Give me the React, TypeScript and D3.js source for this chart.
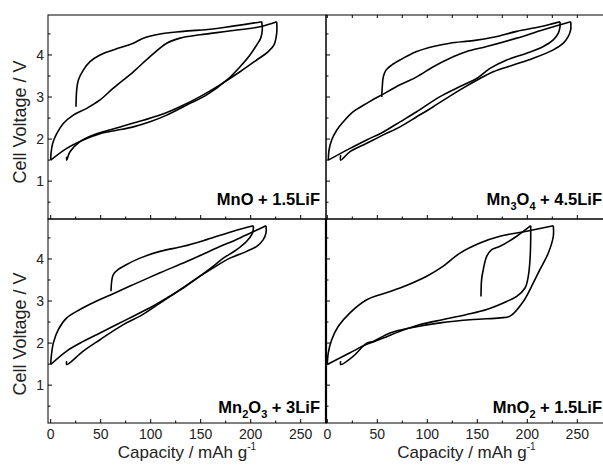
import * as d3 from 'd3';

type Pt = [number, number];

// capacity (mAh/g), voltage (V)
const mnoCharge1: Pt[] = [[25.3, 2.77], [26, 3.17], [27.6, 3.4], [32.6, 3.64], [39.3, 3.84], [49.3, 4.0], [62.6, 4.12], [82.6, 4.28], [92.6, 4.4], [109.3, 4.5], [132.6, 4.56], [166, 4.63], [211, 4.79]];
const mnoDischarge1: Pt[] = [[211, 4.79], [211.6, 4.6], [210, 4.4], [206, 4.24], [199.3, 4.0], [189.3, 3.72], [176, 3.4], [156, 3.05], [136, 2.81], [116, 2.57], [99.3, 2.41], [82.6, 2.29], [66, 2.21], [49.3, 2.13], [32.6, 1.98], [16, 1.78], [0, 1.5]];
const mnoCharge2: Pt[] = [[0, 1.5], [0.3, 1.66], [2, 1.9], [6, 2.13], [12.6, 2.37], [22.6, 2.57], [36, 2.73], [49.3, 2.93], [62.6, 3.21], [82.6, 3.6], [99.3, 3.96], [116, 4.28], [129.3, 4.4], [149.3, 4.48], [182.6, 4.58], [209.3, 4.67], [226, 4.79]];
const mnoDischarge2: Pt[] = [[226, 4.79], [226, 4.52], [223.3, 4.24], [217.6, 4.08], [206, 3.88], [189.3, 3.6], [169.3, 3.29], [149.3, 3.01], [129.3, 2.77], [109.3, 2.57], [92.6, 2.45], [72.6, 2.31], [56, 2.2], [42.6, 2.1], [29.3, 1.94], [19.3, 1.7], [16, 1.5], [16, 1.58]];

const mn3o4Charge1: Pt[] = [[54.4, 3.0], [55, 3.25], [56, 3.48], [58.7, 3.64], [64.4, 3.76], [72.7, 3.88], [89.4, 4.08], [106, 4.2], [122.7, 4.28], [146, 4.34], [166, 4.42], [189.4, 4.56], [212.7, 4.67], [232.7, 4.79]];
const mn3o4Discharge1: Pt[] = [[232.7, 4.79], [232.7, 4.67], [231, 4.52], [226, 4.36], [216, 4.2], [199.4, 4.04], [179.4, 3.88], [162.7, 3.68], [149.4, 3.44], [132.7, 3.25], [112.7, 3.01], [89.4, 2.65], [72.7, 2.41], [56, 2.17], [39.4, 1.98], [22.7, 1.78], [1, 1.5]];
const mn3o4Charge2: Pt[] = [[1, 1.5], [1.7, 1.74], [4.4, 1.98], [9.4, 2.21], [16, 2.41], [26, 2.65], [39.4, 2.85], [54.4, 3.05], [72.7, 3.29], [89.4, 3.48], [106, 3.72], [122.7, 3.92], [139.4, 4.08], [159.4, 4.2], [189.4, 4.4], [216, 4.6], [243.4, 4.79]];
const mn3o4Discharge2: Pt[] = [[243.4, 4.79], [243.4, 4.6], [241, 4.44], [236, 4.28], [226, 4.12], [206, 3.92], [186, 3.76], [166, 3.6], [152.7, 3.44], [132.7, 3.17], [106, 2.77], [89.4, 2.53], [72.7, 2.29], [56, 2.1], [39.4, 1.9], [22.7, 1.7], [13.4, 1.5], [13.4, 1.62]];

const mn2o3Charge1: Pt[] = [[60.3, 3.23], [61, 3.47], [62.6, 3.63], [67.6, 3.75], [76, 3.87], [89.3, 4.02], [109.3, 4.18], [132.6, 4.3], [156, 4.46], [182.6, 4.66], [202.6, 4.79]];
const mn2o3Discharge1: Pt[] = [[202.6, 4.79], [202.6, 4.7], [201, 4.58], [196, 4.42], [186, 4.22], [172.6, 4.02], [162.6, 3.83], [149.3, 3.59], [132.6, 3.31], [116, 3.07], [99.3, 2.84], [82.6, 2.64], [66, 2.44], [49.3, 2.24], [32.6, 2.04], [16, 1.81], [0, 1.49]];
const mn2o3Charge2: Pt[] = [[0, 1.49], [0.6, 1.69], [2.6, 2.0], [7.6, 2.32], [16, 2.6], [29.3, 2.8], [46, 3.0], [60.3, 3.15], [82.6, 3.39], [109.3, 3.67], [136, 3.94], [166, 4.26], [189.3, 4.5], [215.3, 4.79]];
const mn2o3Discharge2: Pt[] = [[215.3, 4.79], [215.3, 4.62], [212.6, 4.46], [206, 4.3], [196, 4.18], [179.3, 4.02], [162.6, 3.79], [149.3, 3.59], [129.3, 3.27], [109.3, 2.95], [89.3, 2.64], [72.6, 2.44], [49.3, 2.08], [32.6, 1.81], [16, 1.49], [16, 1.57]];

const mno2Charge1: Pt[] = [[153.7, 3.11], [154.3, 3.51], [156, 3.75], [159.4, 4.06], [164.4, 4.22], [172.7, 4.3], [189.4, 4.54], [203.4, 4.79]];
const mno2Discharge1: Pt[] = [[203.4, 4.79], [203.4, 4.46], [202.7, 3.98], [201, 3.59], [197.7, 3.31], [189.4, 3.11], [179.4, 2.99], [159.4, 2.8], [139.4, 2.68], [116, 2.56], [92.7, 2.44], [72.7, 2.28], [56, 2.12], [39.4, 1.97], [22.7, 1.77], [0, 1.49]];
const mno2Charge2: Pt[] = [[0, 1.49], [1, 1.77], [4.4, 2.08], [11, 2.4], [22.7, 2.72], [39.4, 3.03], [52.7, 3.15], [72.7, 3.31], [99.4, 3.59], [116, 3.83], [132.7, 4.14], [152.7, 4.38], [172.7, 4.54], [199.4, 4.66], [226, 4.79]];
const mno2Discharge2: Pt[] = [[226, 4.79], [226, 4.54], [221, 4.14], [212.7, 3.75], [206, 3.43], [196, 2.99], [182.7, 2.64], [172.7, 2.6], [146, 2.56], [112.7, 2.48], [82.7, 2.36], [62.7, 2.24], [46, 2.04], [39.4, 2.0], [26, 1.69], [13.4, 1.49], [13.4, 1.57]];

const xTicks = [0, 50, 100, 150, 200, 250];
const xMinor = [25, 75, 125, 175, 225];
const xTopTicks = [0, 25, 50, 75, 100, 125, 150, 175, 200, 225, 250];
const yTicks = [1, 2, 3, 4];
const yMinor = [0.5, 1.5, 2.5, 3.5, 4.5];

// label pieces: [text, isSubscript]
const labelMnO: [string, boolean][] = [['MnO + 1.5LiF', false]];
const labelMn3O4: [string, boolean][] = [['Mn', false], ['3', true], ['O', false], ['4', true], [' + 4.5LiF', false]];
const labelMn2O3: [string, boolean][] = [['Mn', false], ['2', true], ['O', false], ['3', true], [' + 3LiF', false]];
const labelMnO2: [string, boolean][] = [['MnO', false], ['2', true], [' + 1.5LiF', false]];

const yTitle = 'Cell Voltage / V';
const xTitle = 'Capacity / mAh g';

const W = 603;
const H = 470;
const colX = [[48, 326], [326, 604]];
const rowY = [[15, 219], [219, 423]];
const xDomains = [[-2.7, 275.3], [-1.3, 276.7]];
const yDomain = [0.1, 4.95];
const font = 'Arial, "Liberation Sans", sans-serif';

const panels = [
  { id: 'a', col: 0, row: 0, label: labelMnO, curves: [mnoCharge1, mnoDischarge1, mnoCharge2, mnoDischarge2] },
  { id: 'b', col: 1, row: 0, label: labelMn3O4, curves: [mn3o4Charge1, mn3o4Discharge1, mn3o4Charge2, mn3o4Discharge2] },
  { id: 'c', col: 0, row: 1, label: labelMn2O3, curves: [mn2o3Charge1, mn2o3Discharge1, mn2o3Charge2, mn2o3Discharge2] },
  { id: 'd', col: 1, row: 1, label: labelMnO2, curves: [mno2Charge1, mno2Discharge1, mno2Charge2, mno2Discharge2] },
];

function Panel({ p }: { p: typeof panels[number] }) {
  const [x0, x1] = colX[p.col];
  const [y0, y1] = rowY[p.row];
  const x = d3.scaleLinear().domain(xDomains[p.col]).range([x0, x1]);
  const y = d3.scaleLinear().domain(yDomain).range([y1, y0]);
  const line = d3.line<Pt>()
    .x(d => x(d[0]))
    .y(d => y(d[1]))
    .curve(d3.curveCatmullRom.alpha(0.5));

  const labelX = p.col === 0 ? 320 : 602;
  const labelY = p.row === 0 ? 205 : 413;

  return (
    <g>
      <clipPath id={`clip-${p.id}`}>
        <rect x={x0} y={y0} width={x1 - x0} height={y1 - y0} />
      </clipPath>
      <g clipPath={`url(#clip-${p.id})`}>
        {p.curves.map((c, i) => (
          <path key={i} d={line(c) || ''} fill="none" stroke="#000" strokeWidth={1.6} strokeLinejoin="round" />
        ))}
      </g>
      <rect x={x0} y={y0} width={x1 - x0} height={y1 - y0} fill="none" stroke="#000" strokeWidth={1} />
      {p.col === 1 && p.row === 1 && (
        <line x1={x0} x2={x0} y1={y0} y2={y1} stroke="#000" strokeWidth={2.2} />
      )}
      {/* y ticks, inward */}
      {yTicks.map(t => (
        <line key={'ym' + t} x1={x0} x2={x0 + 4} y1={y(t)} y2={y(t)} stroke="#000" strokeWidth={1} />
      ))}
      {yMinor.map(t => (
        <line key={'yn' + t} x1={x0} x2={x0 + 2.5} y1={y(t)} y2={y(t)} stroke="#000" strokeWidth={1} />
      ))}
      {/* x ticks, inward */}
      {xTicks.map(t => (
        <line key={'xm' + t} x1={x(t)} x2={x(t)} y1={y1} y2={y1 - 4} stroke="#000" strokeWidth={1} />
      ))}
      {xMinor.map(t => (
        <line key={'xn' + t} x1={x(t)} x2={x(t)} y1={y1} y2={y1 - 2.5} stroke="#000" strokeWidth={1} />
      ))}
      {p.col === 1 && p.row === 0 && xTopTicks.map(t => (
        <line key={'xt' + t} x1={x(t)} x2={x(t)} y1={y0} y2={y0 + 3} stroke="#000" strokeWidth={1} />
      ))}
      {p.col === 0 && yTicks.map(t => (
        <text key={'yl' + t} x={44} y={y(t)} dy="0.36em" textAnchor="end" fontSize={14} fontFamily={font} fill="#222">{t}</text>
      ))}
      {p.row === 1 && xTicks.map(t => (
        <text key={'xl' + t} x={x(t)} y={439} textAnchor="middle" fontSize={14} fontFamily={font} fill="#222">{t}</text>
      ))}
      {p.col === 0 && (
        <text transform={`translate(26,${p.row === 0 ? 122 : 334}) rotate(-90)`} textAnchor="middle" fontSize={18} fontFamily={font} fill="#222">{yTitle}</text>
      )}
      {p.row === 1 && (
        <text x={(x0 + Math.min(x1, W)) / 2 + (p.col === 0 ? 0 : 2)} y={458} textAnchor="middle" fontSize={17} fontFamily={font} fill="#222">
          {xTitle}
          <tspan fontSize={10} dy={-8}>-1</tspan>
        </text>
      )}
      <text x={labelX} y={labelY} textAnchor="end" fontSize={16.5} fontWeight="bold" fontFamily={font} fill="#000">
        {p.label.map(([s, sub], i) => {
          const prevSub = i > 0 && p.label[i - 1][1];
          const dy = sub ? 5 : prevSub ? -5 : 0;
          return (
            <tspan key={i} fontSize={sub ? 11 : 16.5} dy={dy}>{s}</tspan>
          );
        })}
      </text>
    </g>
  );
}

export default function App() {
  return (
    <svg width={W} height={H} style={{ position: 'absolute', left: 0, top: 0, background: '#fff' }}>
      <rect x={0} y={0} width={W} height={H} fill="#fff" />
      {panels.map(p => <Panel key={p.id} p={p} />)}
    </svg>
  );
}
